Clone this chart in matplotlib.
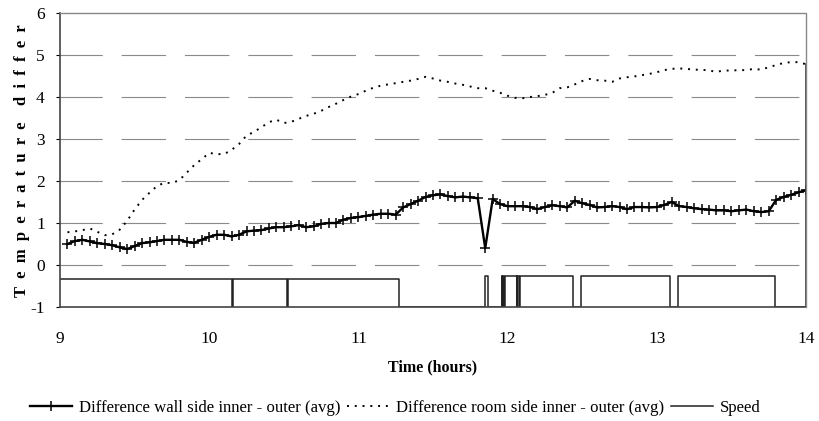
# Import libraries
import matplotlib
matplotlib.use("Agg")
import matplotlib.pyplot as plt
import numpy as np

# Time axis: one reading every 3 minutes, 9:03 to 14:00 (hours)
time = np.arange(100) * 0.05 + 9.05

# Difference wall side inner - outer (avg)
wall = [0.50, 0.57, 0.60, 0.56, 0.52, 0.50, 0.47, 0.42, 0.38, 0.45,
        0.52, 0.54, 0.57, 0.60, 0.60, 0.60, 0.55, 0.53, 0.60,
        0.67, 0.72, 0.72, 0.68, 0.72, 0.80, 0.82, 0.83, 0.87, 0.90,
        0.90, 0.92, 0.95, 0.90, 0.92, 0.98, 1.00, 1.00, 1.08, 1.12,
        1.14, 1.17, 1.20, 1.22, 1.22, 1.20, 1.37, 1.45, 1.53, 1.62,
        1.66, 1.68, 1.64, 1.61, 1.63, 1.61, 1.59, 0.40, 1.57, 1.45,
        1.40, 1.40, 1.40, 1.38, 1.33, 1.38, 1.42, 1.40, 1.37, 1.53,
        1.47, 1.43, 1.37, 1.38, 1.40, 1.38, 1.33, 1.38, 1.38, 1.37,
        1.38, 1.43, 1.50, 1.40, 1.38, 1.35, 1.33, 1.32, 1.30, 1.30,
        1.28, 1.30, 1.32, 1.28, 1.26, 1.28, 1.55, 1.62, 1.67, 1.73,
        1.78]

# Difference room side inner - outer (avg)
room = [0.78, 0.80, 0.83, 0.87, 0.79, 0.71, 0.73, 0.84, 1.05, 1.32,
        1.55, 1.72, 1.88, 1.96, 1.95, 2.02, 2.20, 2.38, 2.52,
        2.67, 2.64, 2.64, 2.74, 2.88, 3.08, 3.17, 3.28, 3.40, 3.46,
        3.38, 3.41, 3.48, 3.55, 3.60, 3.67, 3.76, 3.84, 3.93, 4.01,
        4.07, 4.15, 4.22, 4.27, 4.30, 4.33, 4.36, 4.39, 4.43, 4.48,
        4.44, 4.39, 4.36, 4.32, 4.29, 4.25, 4.21, 4.21, 4.15, 4.10,
        4.03, 3.98, 3.97, 4.00, 4.02, 4.05, 4.10, 4.21, 4.23, 4.30,
        4.38, 4.43, 4.40, 4.39, 4.36, 4.44, 4.47, 4.49, 4.52, 4.55,
        4.59, 4.64, 4.67, 4.68, 4.67, 4.65, 4.65, 4.63, 4.60, 4.63,
        4.63, 4.64, 4.64, 4.67, 4.65, 4.71, 4.76, 4.81, 4.83, 4.83,
        4.78]

# Speed (on / off), step series in plot units
speed_time = [9.0, 10.15, 10.16, 10.52, 10.53, 11.27, 11.85, 11.87,
              11.96, 11.965, 11.97, 11.975, 11.98, 12.06, 12.065, 12.075,
              12.08, 12.44, 12.49, 13.09, 13.14, 13.79, 14.0]
speed = [-0.33, -1, -0.33, -1, -0.33, -1, -0.25, -1,
         -0.25, -1, -0.25, -1, -0.25, -1, -0.25, -1,
         -0.25, -1, -0.25, -1, -0.25, -1, -1]

yticks = [-1, 0, 1, 2, 3, 4, 5, 6]
xticks = [9, 10, 11, 12, 13, 14]

plt.rcParams['font.family'] = ['Liberation Serif', 'DejaVu Serif']
plt.rcParams['axes.unicode_minus'] = False

fig = plt.figure(figsize=(8.2, 4.21), dpi=100)
ax = fig.add_axes([60/820, 1-307/421, 746/820, 294/421])

# Horizontal grid lines
for y in yticks[1:-1]:
    ax.axhline(y, color='#8a8a8a', lw=0.8, linestyle=(2, (40, 17)), zorder=0)

ax.plot(time, wall, color='black', lw=1.7, marker='+', markersize=6.5,
        markeredgewidth=1.1, label='Difference wall side inner - outer (avg)')
ax.plot(time, room, color='black', lw=1.4, linestyle=(0, (1, 3.0)),
        label='Difference room side inner - outer (avg)')
ax.plot(speed_time, speed, color='#222222', lw=1.1, drawstyle='steps-post',
        label='Speed')
# dark edge at the end of the room series
ax.axvline(time[-1], ymin=0, ymax=(room[-1] - yticks[0]) / (yticks[-1] - yticks[0]),
           color='#333333', lw=1.2)

ax.set_xlim(9, 14)
ax.set_ylim(-1, 6)
ax.set_xticks(xticks)
ax.set_yticks(yticks)
ax.tick_params(axis='x', length=0, pad=17, labelsize=12.5)
ax.tick_params(axis='y', length=3, width=0.8, pad=8, labelsize=12.5)
for s in ['left', 'bottom']:
    ax.spines[s].set_color('#444444')
    ax.spines[s].set_linestyle((0, (1, 1)))
    ax.spines[s].set_linewidth(1.2)
for s in ['top', 'right']:
    ax.spines[s].set_color('#888888')
    ax.spines[s].set_linestyle((0, (1, 1)))
    ax.spines[s].set_linewidth(1.0)

ax.set_xlabel('Time (hours)', fontsize=11.5, fontweight='bold', labelpad=9)

fig.text(22/820, 1-297/421, 'T  e  m  p  e  r  a  t  u  r  e    d  i  f  f  e  r',
         rotation=90, ha='center', va='bottom', fontsize=12, fontweight='bold')

fig.legend(loc='center', bbox_to_anchor=(0.482, 1-408/421), ncol=3,
           frameon=False, fontsize=12.1, handlelength=2.5, columnspacing=0.4,
           handletextpad=0.4)

fig.savefig('out.png', dpi=100)
